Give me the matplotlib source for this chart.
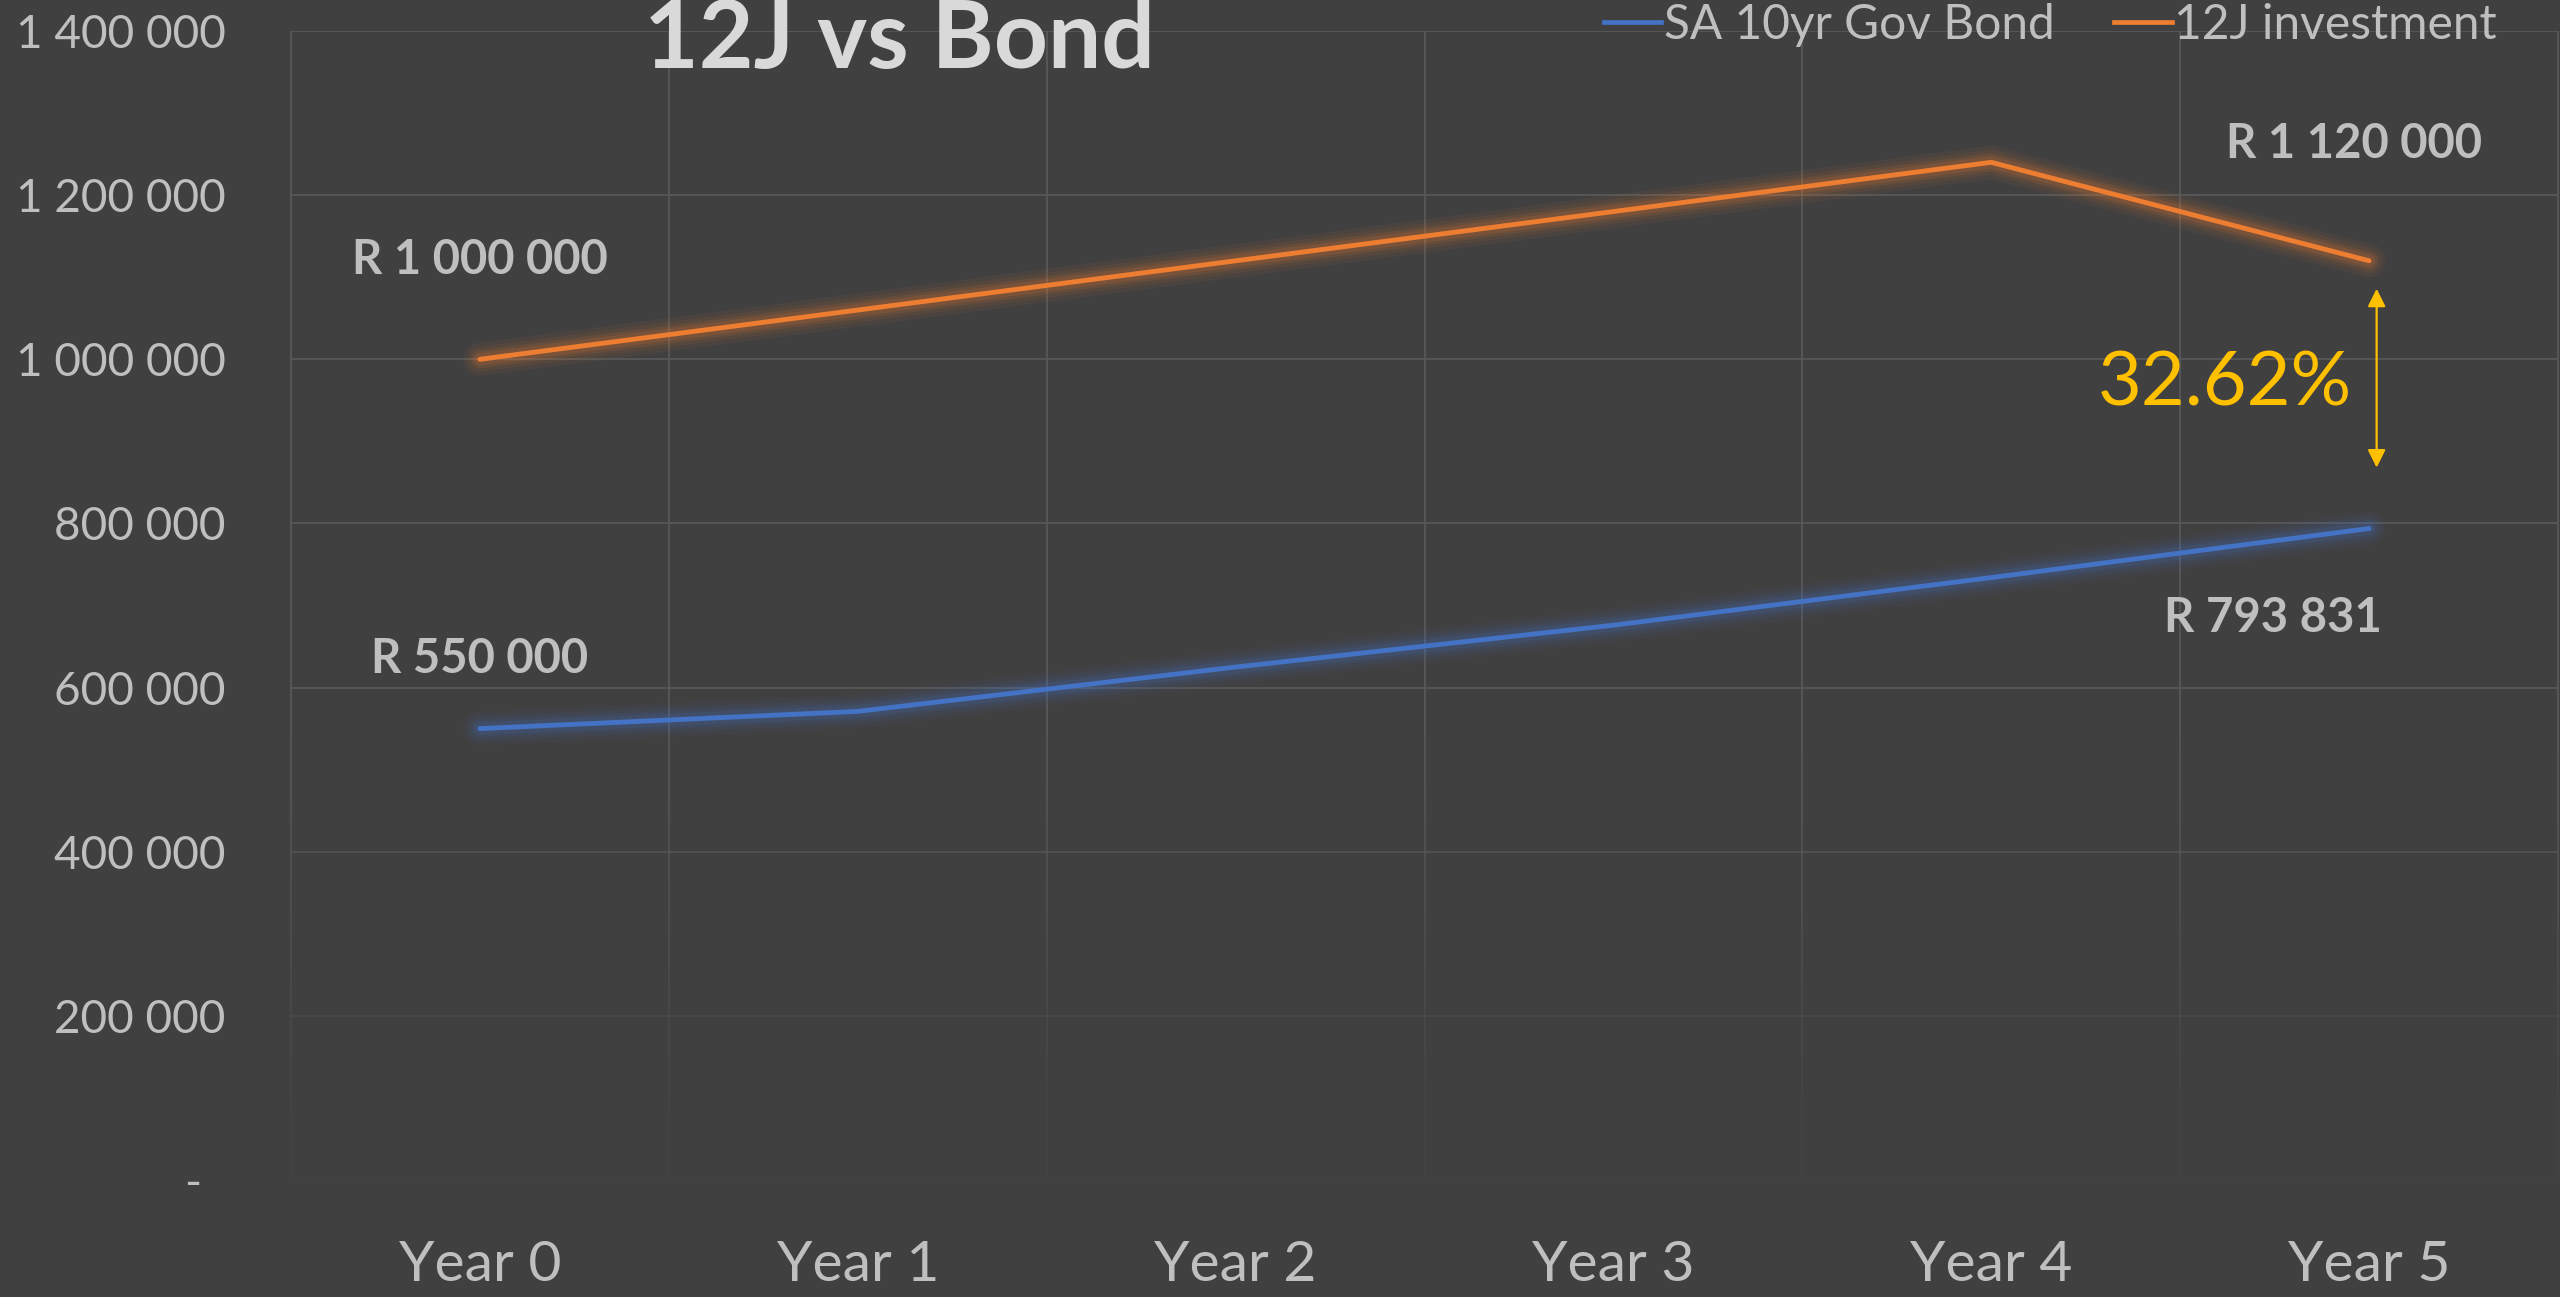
import matplotlib

matplotlib.use("Agg")
import matplotlib.pyplot as plt
import matplotlib.patheffects as pe
import numpy as np
from matplotlib.collections import LineCollection
from matplotlib.lines import Line2D
from matplotlib.ticker import FuncFormatter

# ---- data ----
YEARS = ["Year 0", "Year 1", "Year 2", "Year 3", "Year 4", "Year 5"]
BOND = [550000, 571000, 625000, 676000, 734000, 793831]
INV_12J = [1000000, 1060000, 1120000, 1180000, 1240000, 1120000]
SERIES_NAMES = ["SA 10yr Gov Bond", "12J investment"]
GAP_LABEL = "32.62%"

BG = "#404040"
GRID = "#5a5a5a"
TXT = "#bfbfbf"
BLUE = "#4472C4"
ORANGE = "#ED7D31"
GOLD = "#FFC000"
FONT = "Lato"

plt.rcParams["font.family"] = [FONT, "DejaVu Sans"]

fig = plt.figure(figsize=(25.6, 12.97), dpi=100, facecolor=BG)
ax = fig.add_axes([291 / 2560, 117 / 1297, 2267 / 2560, 1149 / 1297], facecolor=BG)

x = np.arange(len(YEARS))
ax.set_xlim(-0.5, len(YEARS) - 0.5)
ax.set_ylim(0, 1400000)
yticks = np.arange(0, 1400001, 200000)


def fade(v):
    # gridlines fade out towards the bottom of the plot
    return float(np.clip(v / 550000, 0.12, 1.0))


# horizontal gridlines
for v in yticks:
    ax.axhline(v, color=GRID, lw=1.2, alpha=fade(v), zorder=0)

# vertical gridlines (category boundaries), gradient towards bottom
ys = np.linspace(0, 1400000, 120)
for xb in np.arange(-0.5, len(YEARS) + 0.5, 1.0):
    segs = [[(xb, ys[i]), (xb, ys[i + 1])] for i in range(len(ys) - 1)]
    cols = [(90 / 255, 90 / 255, 90 / 255, fade(ys[i])) for i in range(len(ys) - 1)]
    ax.add_collection(LineCollection(segs, colors=cols, linewidths=1.2, zorder=0,
                                     clip_on=False))


def glow(color):
    effects = []
    for w, a in [(24, 0.06), (18, 0.08), (13, 0.11), (9, 0.14)]:
        effects.append(pe.Stroke(linewidth=w, foreground=color, alpha=a,
                                 capstyle="round", joinstyle="round"))
    effects.append(pe.Normal())
    return effects


ax.plot(x, BOND, color=BLUE, lw=3.5, solid_capstyle="round", solid_joinstyle="round",
        path_effects=glow(BLUE), zorder=3)
ax.plot(x, INV_12J, color=ORANGE, lw=3.5, solid_capstyle="round", solid_joinstyle="round",
        path_effects=glow(ORANGE), zorder=3)

# axes styling
for s in ax.spines.values():
    s.set_visible(False)
ax.set_xticks(x)
ax.set_xticklabels(YEARS)
ax.set_yticks(yticks)
ax.yaxis.set_major_formatter(FuncFormatter(
    lambda v, _: "-  " if v == 0 else f"{v:,.0f}".replace(",", " ")))
ax.tick_params(axis="x", length=0, pad=43, labelsize=41, labelcolor=TXT)
ax.tick_params(axis="y", length=0, pad=47, labelsize=33, labelcolor=TXT)

# data labels
lab = dict(fontsize=34, fontweight="bold", color=TXT, ha="center", va="center",
           textcoords="offset pixels")
ax.annotate("R 1 000 000", xy=(x[0], INV_12J[0]), xytext=(0, 99), **lab)
ax.annotate("R 550 000", xy=(x[0], BOND[0]), xytext=(0, 70), **lab)
ax.annotate("R 1 120 000", xy=(x[-1], INV_12J[-1]), xytext=(-15, 117), **lab)
ax.annotate("R 793 831", xy=(x[-1], BOND[-1]), xytext=(-96, -90), **lab)

# gap arrow and percentage
ax.annotate("", xy=(x[-1] + 0.02, 1086000), xytext=(x[-1] + 0.02, 868000),
            arrowprops=dict(arrowstyle="<|-|>", color=GOLD, lw=1.6,
                            mutation_scale=27, shrinkA=0, shrinkB=0), zorder=4)
ax.text(x[-1] - 0.045, 970000, GAP_LABEL, color=GOLD, fontsize=54.5, ha="right",
        va="center")

# title
fig.text(899 / 2560, 1 - 68 / 1297, "12J vs Bond", fontsize=68, fontweight="bold",
         color="#d9d9d9", ha="center", va="baseline")

# legend
handles = [Line2D([], [], color=BLUE, lw=3.4), Line2D([], [], color=ORANGE, lw=3.4)]
fig.legend(handles, SERIES_NAMES, loc="center right",
           bbox_to_anchor=(2497 / 2560, 1 - 25 / 1297), ncol=2, frameon=False,
           fontsize=34.5, labelcolor=TXT, handlelength=1.2, handletextpad=0.05,
           columnspacing=1.25, borderpad=0, borderaxespad=0)

fig.savefig("out.png", dpi=100, facecolor=BG)
